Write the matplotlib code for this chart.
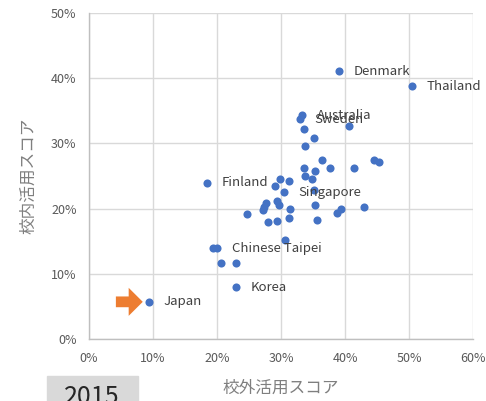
import matplotlib
matplotlib.use("Agg")
import matplotlib.pyplot as plt
from matplotlib.patches import FancyArrow, Rectangle
from matplotlib.ticker import PercentFormatter

plt.rcParams['font.family'] = ['Noto Sans CJK JP', 'DejaVu Sans']

# out-of-school use score (x) vs in-school use score (y), percent
out_school = [39.1, 50.5, 33.3, 33.0, 40.6, 33.6, 35.2, 33.8, 36.4, 44.6,
              45.3, 33.6, 37.7, 41.4, 35.3, 33.8, 34.8, 29.8, 31.2, 18.4,
              29.1, 30.4, 35.2, 27.7, 27.4, 27.2, 29.4, 29.7, 31.4, 35.3,
              39.3, 38.7, 43.0, 24.7, 27.9, 29.3, 31.2, 35.6, 30.6, 20.0,
              19.4, 20.6, 22.9, 22.9, 9.4]
in_school = [41.1, 38.8, 34.3, 33.7, 32.7, 32.2, 30.9, 29.6, 27.5, 27.4,
             27.1, 26.3, 26.3, 26.3, 25.8, 25.0, 24.6, 24.6, 24.2, 24.0,
             23.4, 22.5, 22.9, 20.9, 20.3, 19.8, 21.2, 20.5, 20.0, 20.5,
             19.9, 19.4, 20.2, 19.2, 17.9, 18.1, 18.5, 18.3, 15.2, 13.9,
             13.9, 11.6, 11.6, 7.9, 5.7]
# labelled countries: index into the arrays above
labels = {0: "Denmark", 1: "Thailand", 2: "Australia", 3: "Sweden",
          19: "Finland", 21: "Singapore", 39: "Chinese Taipei",
          43: "Korea", 44: "Japan"}
japan = 44

x_ticks = [0, 10, 20, 30, 40, 50, 60]
y_ticks = [0, 10, 20, 30, 40, 50]

fig = plt.figure(figsize=(4.86, 4.01), dpi=100)
ax = fig.add_axes([89 / 486, 1 - 339 / 401, 384 / 486, 326 / 401])

grid_c = "#d9d9d9"
txt_c = "#595959"

ax.scatter(out_school, in_school, s=34, color="#4472C4", zorder=3,
           linewidths=0)

for i, name in labels.items():
    ax.annotate(name, (out_school[i], in_school[i]), xytext=(10.5, 0),
                textcoords="offset points", va="center", ha="left",
                fontsize=9.5, color="#404040", zorder=4)

# orange arrow pointing at Japan
jx, jy = out_school[japan], in_school[japan]
ax.add_patch(FancyArrow(jx - 5.2, jy, 4.2, 0, width=1.65, head_width=4.3,
                        head_length=2.2, length_includes_head=True,
                        color="#ED7D31", linewidth=0, zorder=4))

ax.set_xlim(0, 60)
ax.set_ylim(0, 50)
ax.set_xticks(x_ticks)
ax.set_yticks(y_ticks)
ax.xaxis.set_major_formatter(PercentFormatter(decimals=0))
ax.yaxis.set_major_formatter(PercentFormatter(decimals=0))
ax.grid(True, color=grid_c, linewidth=1.0, zorder=0)
ax.set_axisbelow(True)
for side in ["top", "right"]:
    ax.spines[side].set_visible(False)
for side in ["left", "bottom"]:
    ax.spines[side].set_color("#bfbfbf")
    ax.spines[side].set_linewidth(1.0)
ax.tick_params(length=0, labelsize=9, colors=txt_c, pad=9)

ax.set_xlabel("校外活用スコア", fontsize=12, color="#7f7f7f", labelpad=11)
ax.set_ylabel("校内活用スコア", fontsize=12, color="#7f7f7f", labelpad=10)

# year badge at the bottom
fig.patches.append(Rectangle((47 / 486, 0), 91 / 486, 25 / 401,
                             transform=fig.transFigure, color="#d9d9d9",
                             zorder=0))
fig.text(92 / 486, 1 - 384 / 401, "2015", ha="center", va="top",
         fontsize=18, color="#262626")

fig.savefig("out.png", dpi=100)
